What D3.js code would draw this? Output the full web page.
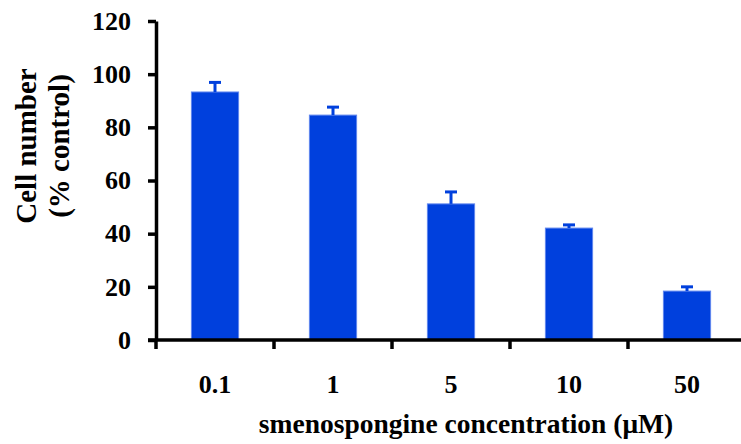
<!DOCTYPE html>
<html>
<head>
<meta charset="utf-8">
<script src="https://cdn.jsdelivr.net/npm/d3@7"></script>
<style>
  body { margin: 0; background: #fff; }
</style>
</head>
<body>
<div id="chart"></div>
<script>
// data
var categories = ["0.1", "1", "5", "10", "50"];
var values = [93.3, 84.6, 51.2, 42.1, 18.4];
var errors = [3.6, 3.0, 4.5, 1.2, 1.6];
var yTicks = [0, 20, 40, 60, 80, 100, 120];

var FONT = "'Liberation Serif'";

var W = 741, H = 444;
var margin = {top: 21, left: 156, bottom: 104},
  plotW = 590,
  plotH = H - margin.top - margin.bottom;

var svg = d3.select("#chart")
  .append("svg")
    .attr("width", W)
    .attr("height", H);

var g = svg.append("g")
  .attr("transform", "translate(" + margin.left + "," + margin.top + ")");

var x = d3.scaleBand()
  .domain(categories)
  .range([0, plotW])
  .paddingInner(0.6)
  .paddingOuter(0.3);

var y = d3.scaleLinear()
  .domain([0, 120])
  .range([plotH, 0]);

// bars
g.selectAll("rect.bar")
  .data(values)
  .enter()
  .append("rect")
    .attr("class", "bar")
    .attr("x", (d, i) => x(categories[i]))
    .attr("y", d => y(d))
    .attr("width", x.bandwidth())
    .attr("height", d => y(0) - y(d))
    .style("fill", "#0040dd")
    .style("stroke", "#5f86ee")
    .style("stroke-width", 1);

// error bars (upper only)
var eb = g.selectAll("g.err")
  .data(values)
  .enter()
  .append("g")
    .attr("class", "err")
    .style("stroke", "#0040dd")
    .style("stroke-width", 3);

eb.append("line")
  .attr("x1", (d, i) => x(categories[i]) + x.bandwidth() / 2)
  .attr("x2", (d, i) => x(categories[i]) + x.bandwidth() / 2)
  .attr("y1", d => y(d))
  .attr("y2", (d, i) => y(d + errors[i]));

eb.append("line")
  .attr("x1", (d, i) => x(categories[i]) + x.bandwidth() / 2 - 6)
  .attr("x2", (d, i) => x(categories[i]) + x.bandwidth() / 2 + 6)
  .attr("y1", (d, i) => y(d + errors[i]))
  .attr("y2", (d, i) => y(d + errors[i]));

// y axis
var yAxis = g.append("g")
  .call(d3.axisLeft(y).tickValues(yTicks).tickSize(8).tickPadding(17).tickSizeOuter(0));
yAxis.attr("font-family", null).attr("font-size", null);
yAxis.select(".domain").style("stroke", "#000").style("stroke-width", 3.5);
yAxis.selectAll(".tick line").style("stroke", "#000").style("stroke-width", 3.5);
yAxis.selectAll(".tick text")
  .style("font-size", "26px")
  .style("font-family", FONT)
  .style("font-weight", "bold")
  .style("fill", "#000");

// x axis: ticks sit between categories
var boundaries = d3.range(categories.length).map(i => i * x.step());
var xAxisG = g.append("g")
  .attr("transform", "translate(0," + plotH + ")");
xAxisG.append("line")
  .attr("x1", -8).attr("x2", plotW)
  .style("stroke", "#000").style("stroke-width", 3.5);
xAxisG.selectAll("line.tk")
  .data(boundaries)
  .enter()
  .append("line")
    .attr("class", "tk")
    .attr("x1", d => d).attr("x2", d => d)
    .attr("y1", 0).attr("y2", 9)
    .style("stroke", "#000").style("stroke-width", 3.5);
xAxisG.selectAll("text.lbl")
  .data(categories)
  .enter()
  .append("text")
    .attr("class", "lbl")
    .attr("x", d => x(d) + x.bandwidth() / 2)
    .attr("y", 53)
    .attr("text-anchor", "middle")
    .style("font-family", FONT)
    .style("font-weight", "bold")
    .style("font-size", "26px")
    .text(d => d);

// axis titles
svg.append("text")
  .attr("x", 466)
  .attr("y", 433)
  .attr("text-anchor", "middle")
  .style("font-family", FONT)
  .style("font-weight", "bold")
  .style("font-size", "27.5px")
  .text("smenospongine concentration (\u03BCM)");

var yt = svg.append("text")
  .attr("transform", "translate(0,146) rotate(-90)")
  .attr("text-anchor", "middle")
  .style("font-family", FONT)
  .style("font-weight", "bold")
  .style("font-size", "29px");
yt.append("tspan").attr("x", 0).attr("y", 36).text("Cell number");
yt.append("tspan").attr("x", 0).attr("y", 69).text("(% control)");
</script>
</body>
</html>
